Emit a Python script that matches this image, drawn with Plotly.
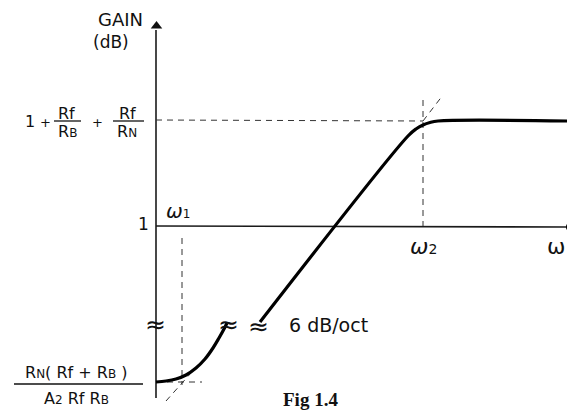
import plotly.graph_objects as go

# sketch coordinates (x right, y down, in page pixels)
low_x = [156, 166, 176, 186, 196, 205, 213, 219, 224, 227]
low_y = [382, 381, 379, 375, 368, 359, 348, 338, 329, 323]
rise_x = [260, 408, 416, 423, 430, 438, 568]
rise_y = [322, 136, 129, 125, 122.5, 121, 121]

axis_x = 156
axis_top = 24
axis_bottom = 398
unity_y = 226
axis_end = 570

hi_y = 121
lo_y = 382
w1_x = 182
w2_x = 423

# the page body has an 8px margin, so the plot starts at (8, 8)
off = 8

fig = go.Figure()

solid = dict(color="#1a1a1a", width=1.6)
dash = dict(color="#333333", width=1, dash="6px,5px")
thick = dict(color="#000000", width=3.2)

# axes
fig.add_trace(go.Scatter(x=[axis_x, axis_x], y=[axis_bottom, axis_top + 6], mode="lines", line=solid))
fig.add_trace(go.Scatter(x=[axis_x, axis_end], y=[unity_y, unity_y + 1], mode="lines", line=solid))
fig.add_trace(go.Scatter(x=[axis_x + 0.5], y=[axis_top + 2], mode="markers",
                         marker=dict(symbol="triangle-up", size=10, color="#111")))
fig.add_trace(go.Scatter(x=[axis_end], y=[unity_y + 1], mode="markers",
                         marker=dict(symbol="circle", size=8, color="#000")))

# guide lines
fig.add_trace(go.Scatter(x=[axis_x, w2_x], y=[hi_y - 1, hi_y], mode="lines", line=dash))
fig.add_trace(go.Scatter(x=[w2_x, w2_x], y=[100, unity_y], mode="lines", line=dash))
fig.add_trace(go.Scatter(x=[w2_x, 443], y=[hi_y, 95], mode="lines", line=dash))
fig.add_trace(go.Scatter(x=[w1_x, w1_x], y=[238, lo_y + 3], mode="lines", line=dash))
fig.add_trace(go.Scatter(x=[axis_x, 202], y=[lo_y, lo_y], mode="lines", line=dash))
fig.add_trace(go.Scatter(x=[166, 191], y=[401, 373], mode="lines", line=dash))

# response curve
fig.add_trace(go.Scatter(x=low_x, y=low_y, mode="lines", line=thick, line_shape="spline"))
fig.add_trace(go.Scatter(x=rise_x, y=rise_y, mode="lines", line=thick, line_shape="spline"))

sans = "DejaVu Sans, sans-serif"
sm = "<span style='font-size:12px'>%s</span>"
notes = [
    (120, 19, "GAIN", 18, sans),
    (111, 42, "(dB)", 17, sans),
    (30, 121, "1", 16, sans),
    (45, 122, "+", 13, sans),
    (66, 113, "Rf", 16, sans),
    (67, 131, "R" + sm % "B", 16, sans),
    (97, 122, "+", 13, sans),
    (127, 113, "Rf", 16, sans),
    (127, 131, "R" + sm % "N", 16, sans),
    (143, 224, "1", 17, sans),
    (178, 211, "<i>ω</i>" + sm % "1", 20, sans),
    (423, 246, "<i>ω</i><span style='font-size:14px'>2</span>", 22, sans),
    (556, 246, "ω", 22, sans),
    (155, 324, "≈", 25, sans),
    (228, 324, "≈", 25, sans),
    (258, 326, "≈", 25, sans),
    (328, 325, "6 dB/oct", 19, sans),
    (76, 372, "R" + sm % "N" + "( Rf + R" + sm % "B" + " )", 16, sans),
    (76, 398, "A" + sm % "2" + " Rf R" + sm % "B", 16, sans),
    (310, 399, "<b>Fig 1.4</b>", 19, "Liberation Serif, Times New Roman, serif"),
]
for x, y, t, s, f in notes:
    fig.add_annotation(x=x, y=y, text=t, showarrow=False, xanchor="center", yanchor="middle",
                       font=dict(size=s, family=f, color="#111"))

# fraction bars
for x0, x1, y in [(54, 81, 121), (113, 144, 121), (14, 143, 384)]:
    fig.add_shape(type="line", x0=x0, x1=x1, y0=y, y1=y, line=dict(color="#111", width=1.3))

fig.update_layout(
    width=575 - off, height=412 - off,
    margin=dict(l=0, r=0, t=0, b=0),
    plot_bgcolor="white", paper_bgcolor="white",
    showlegend=False,
    xaxis=dict(range=[off, 575], visible=False, fixedrange=True),
    yaxis=dict(range=[412, off], visible=False, fixedrange=True),
)

fig.write_html("out.html")
